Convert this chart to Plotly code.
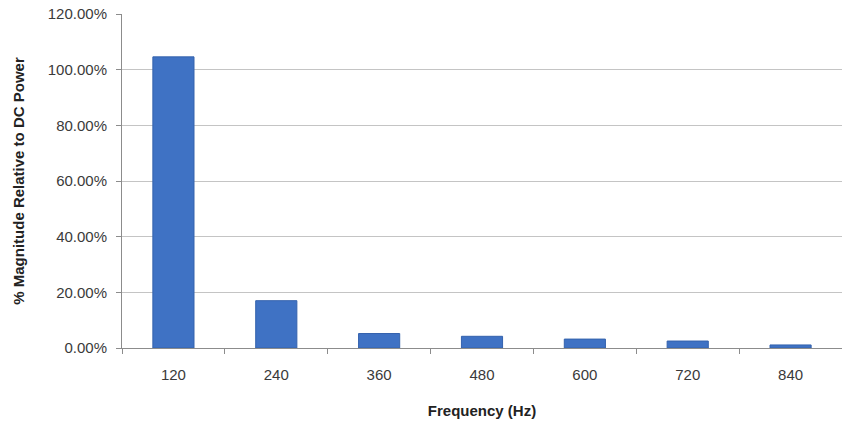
import plotly.graph_objects as go

# Harmonic frequencies and their magnitude relative to DC power (fraction)
frequencies = ["120", "240", "360", "480", "600", "720", "840"]
magnitudes = [1.046, 0.170, 0.052, 0.042, 0.032, 0.025, 0.011]

y_ticks = [0, 0.2, 0.4, 0.6, 0.8, 1.0, 1.2]

fig = go.Figure(
    go.Bar(
        x=frequencies,
        y=magnitudes,
        marker=dict(color="#3f72c4", line=dict(color="#3462ad", width=1)),
        width=0.4,
    )
)

font_family = "Liberation Sans, Arial, sans-serif"

fig.update_layout(
    width=842,
    height=423,
    margin=dict(l=122, r=0, t=14, b=75),
    paper_bgcolor="white",
    plot_bgcolor="white",
    showlegend=False,
    font=dict(family=font_family, size=12, color="#3a3a3a"),
    xaxis=dict(
        type="category",
        range=[-0.5, 6.5],
        showgrid=False,
        showline=True,
        linecolor="#8c8c8c",
        linewidth=1,
        ticks="outside",
        tickson="boundaries",
        ticklen=5,
        tickcolor="#8c8c8c",
        ticklabelstandoff=13,
        tickfont=dict(size=15, color="#3a3a3a"),
        title=dict(
            text="<b>Frequency (Hz)</b>",
            font=dict(size=15, color="#222222"),
            standoff=23,
        ),
    ),
    yaxis=dict(
        range=[0, 1.2],
        tickvals=y_ticks,
        tickformat=".2%",
        showgrid=True,
        gridcolor="#c4c4c4",
        gridwidth=1,
        zeroline=False,
        showline=True,
        linecolor="#8c8c8c",
        linewidth=1,
        ticks="outside",
        ticklen=5,
        tickcolor="#8c8c8c",
        ticklabelstandoff=6,
        tickfont=dict(size=15, color="#3a3a3a"),
        title=dict(
            text="<b>% Magnitude Relative to DC Power</b>",
            font=dict(size=15, color="#222222"),
            standoff=19,
        ),
    ),
)

fig.write_html("out.html")
